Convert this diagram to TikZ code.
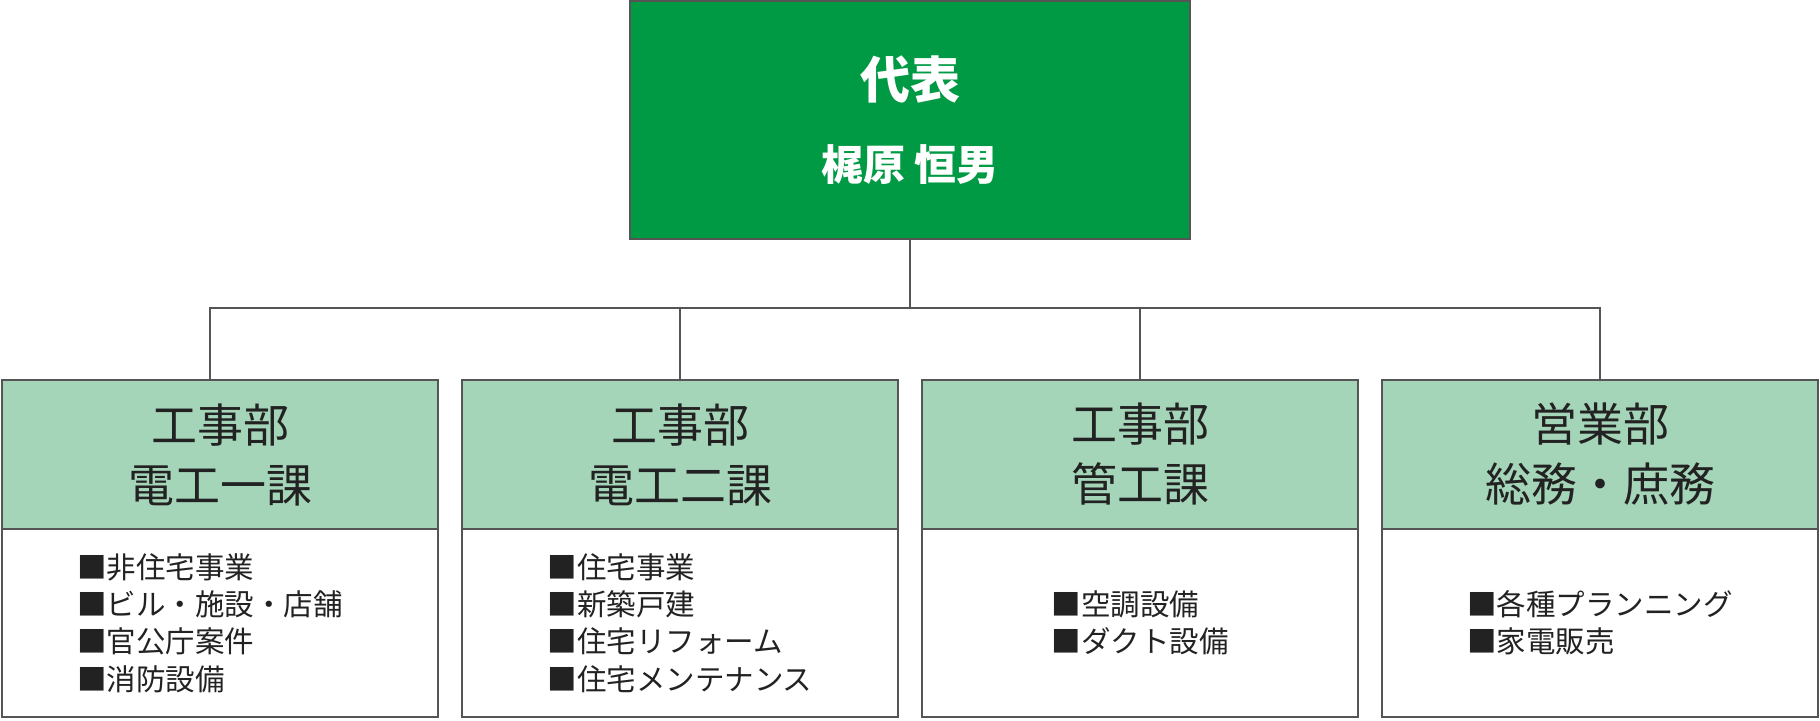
\documentclass[tikz,border=0pt]{standalone}
\usepackage{fontspec}
\setmainfont{Noto Sans CJK JP}
\usepackage{xcolor}
\usepackage{tikz}
\usetikzlibrary{positioning, calc}

\definecolor{repgreen}{HTML}{009A44}
\definecolor{deptgreen}{HTML}{A5D5B9}
\definecolor{linegray}{HTML}{555555}
\definecolor{textdark}{HTML}{222222}

\begin{document}
\begin{tikzpicture}[x=0.5pt, y=-0.5pt,
    repbox/.style={draw=linegray, line width=1.4pt, fill=repgreen, minimum width=280pt, minimum height=119pt, inner sep=0pt, outer sep=0pt},
    depthead/.style={draw=linegray, line width=1.4pt, fill=deptgreen, minimum width=218pt, minimum height=74.5pt, inner sep=0pt, outer sep=0pt, align=center, text=textdark, font=\fontsize{23}{30}\selectfont},
    dutybox/.style={draw=linegray, line width=1.4pt, fill=white, minimum width=218pt, minimum height=94pt, inner sep=0pt, outer sep=0pt},
    dutytext/.style={align=left, text=textdark, font=\fontsize{14.75}{18.6}\selectfont},
    link/.style={draw=linegray, line width=1.2pt}]
    \useasboundingbox (0,0) rectangle (1820,720);

    % Representative
    \node[repbox] (rep) at (910,120) {};
    \node[text=white, font=\bfseries\fontsize{25}{30}\selectfont] (reptitle) at (910,80) {代表};
    \node[text=white, font=\bfseries\fontsize{21}{25}\selectfont] (repname) at (910,165) {梶原 恒男};

    % Departments
    \node[depthead] (dept1) at (220,454.5) {工事部\\電工一課};
    \node[depthead] (dept2) at (680,454.5) {工事部\\電工二課};
    \node[depthead] (dept3) at (1140,454.5) {工事部\\管工課};
    \node[depthead] (dept4) at (1600,454.5) {営業部\\総務・庶務};

    % Duties
    \node[dutybox, anchor=north] (duty1) at (dept1.south) {};
    \node[dutybox, anchor=north] (duty2) at (dept2.south) {};
    \node[dutybox, anchor=north] (duty3) at (dept3.south) {};
    \node[dutybox, anchor=north] (duty4) at (dept4.south) {};
    \node[dutytext, xshift=-5pt] (list1) at (duty1.center) {■非住宅事業\\■ビル・施設・店舗\\■官公庁案件\\■消防設備};
    \node[dutytext] (list2) at (duty2.center) {■住宅事業\\■新築戸建\\■住宅リフォーム\\■住宅メンテナンス};
    \node[dutytext] (list3) at (duty3.center) {■空調設備\\■ダクト設備};
    \node[dutytext] (list4) at (duty4.center) {■各種プランニング\\■家電販売};

    % Branch lines
    \coordinate (bus) at (910,308);
    \draw[link] (rep.south) -- (bus);
    \draw[link] ([xshift=-5pt]dept1.north) |- (bus) -| (dept4.north);
    \draw[link] (dept2.north) -- (dept2.north |- bus);
    \draw[link] (dept3.north) -- (dept3.north |- bus);
\end{tikzpicture}
\end{document}
